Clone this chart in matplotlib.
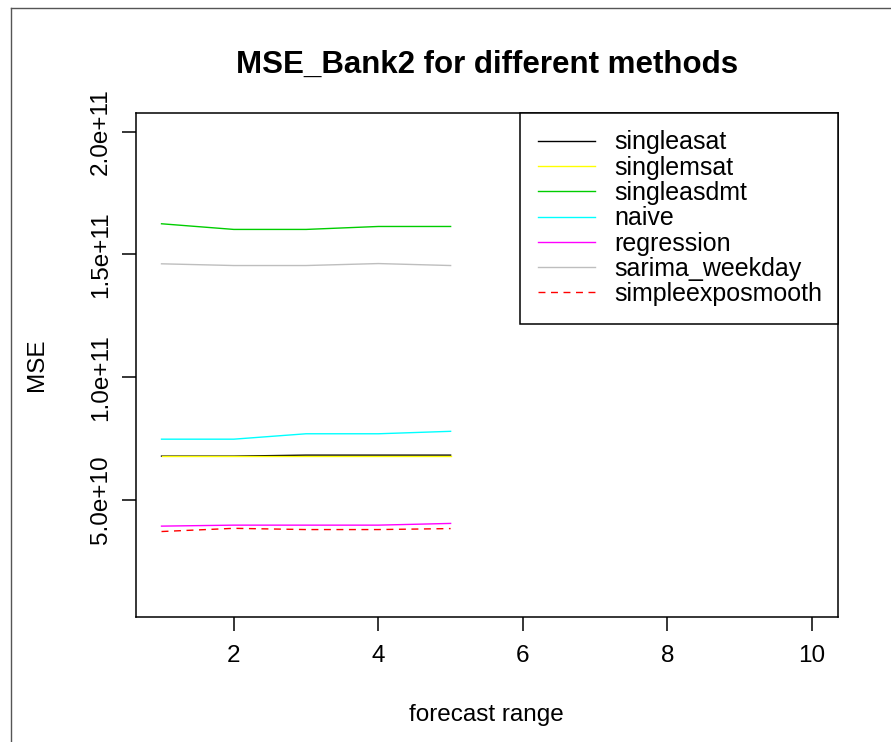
import numpy as np
import matplotlib
matplotlib.use("Agg")
import matplotlib.pyplot as plt
from matplotlib.lines import Line2D

plt.rcParams['font.family'] = ['Liberation Sans', 'DejaVu Sans']

# forecast range and MSE per method
horizon = [1, 2, 3, 4, 5]
singleasat = [6.79e10, 6.79e10, 6.83e10, 6.83e10, 6.83e10]
singlemsat = [6.79e10, 6.79e10, 6.79e10, 6.79e10, 6.79e10]
singleasdmt = [1.625e11, 1.602e11, 1.602e11, 1.614e11, 1.614e11]
naive = [7.48e10, 7.48e10, 7.70e10, 7.70e10, 7.80e10]
regression = [3.94e10, 3.98e10, 3.98e10, 3.98e10, 4.05e10]
sarima_weekday = [1.462e11, 1.455e11, 1.455e11, 1.463e11, 1.455e11]
simpleexposmooth = [3.72e10, 3.85e10, 3.80e10, 3.80e10, 3.84e10]

methods = ['singleasat', 'singlemsat', 'singleasdmt', 'naive',
           'regression', 'sarima_weekday', 'simpleexposmooth']
series = [singleasat, singlemsat, singleasdmt, naive,
          regression, sarima_weekday, simpleexposmooth]
colors = ['black', '#FFFF00', '#00CD00', '#00FFFF', '#FF00FF', '#BEBEBE', '#FF0000']
styles = ['-', '-', '-', '-', '-', '-', (0, (5, 4))]

xticks = [2, 4, 6, 8, 10]
yticks = [5e10, 1e11, 1.5e11, 2e11]
ytick_labels = ['5.0e+10', '1.0e+11', '1.5e+11', '2.0e+11']

W, H = 891, 742
fig = plt.figure(figsize=(W / 100, H / 100), dpi=100)
ax = fig.add_axes([135.5 / W, 1 - 617 / H, (838 - 135.5) / W, (617 - 113) / H])

for vals, c, ls in zip(series, colors, styles):
    ax.plot(horizon, vals, color=c, linestyle=ls, linewidth=1.0)

# R style axis limits: xlim 1..10, ylim 1e10..2e11, both padded 4%
ax.set_xlim(1 - 0.36, 10 + 0.36)
ax.set_ylim(1e10 - 0.076e11, 2e11 + 0.076e11)
ax.set_xticks(xticks)
ax.set_xticklabels([str(t) for t in xticks])
ax.set_yticks(yticks)
ax.set_yticklabels(ytick_labels, rotation=90, va='center')

ax.tick_params(direction='out', length=10, width=1.1, labelsize=17.5, pad=7)
ax.tick_params(axis='x', pad=10)
for sp in ax.spines.values():
    sp.set_linewidth(1.1)

ax.set_xlabel('forecast range', fontsize=17.5)
ax.xaxis.set_label_coords(0.5, -0.173)
ax.set_ylabel('MSE', fontsize=17.5)
ax.yaxis.set_label_coords(-0.124, 0.5)
ax.set_title('MSE_Bank2 for different methods', fontsize=22.5, fontweight='bold',
             pad=0, y=1 + 40 / 504)

handles = [Line2D([], [], color=c, linestyle=ls, linewidth=1.0)
           for c, ls in zip(colors, styles)]
left = (520 - 135.5) / 702.5
leg = ax.legend(handles, methods, loc='upper left', bbox_to_anchor=(left, 0, 1 - left, 1),
                mode='expand', borderaxespad=0, fontsize=18, frameon=True,
                fancybox=False, edgecolor='black', framealpha=1,
                handlelength=2.3, handletextpad=0.76, borderpad=0.7,
                labelspacing=0.05)
leg.get_frame().set_linewidth(1.1)

# outer frame of the device, only left and top edges visible
fig.add_artist(Line2D([10.5 / W, 10.5 / W], [0, 1 - 8 / H], color='#555555',
                      linewidth=1.0, transform=fig.transFigure))
fig.add_artist(Line2D([10.5 / W, 1], [1 - 8 / H, 1 - 8 / H], color='#555555',
                      linewidth=1.0, transform=fig.transFigure))

fig.savefig('out.png', dpi=100)
